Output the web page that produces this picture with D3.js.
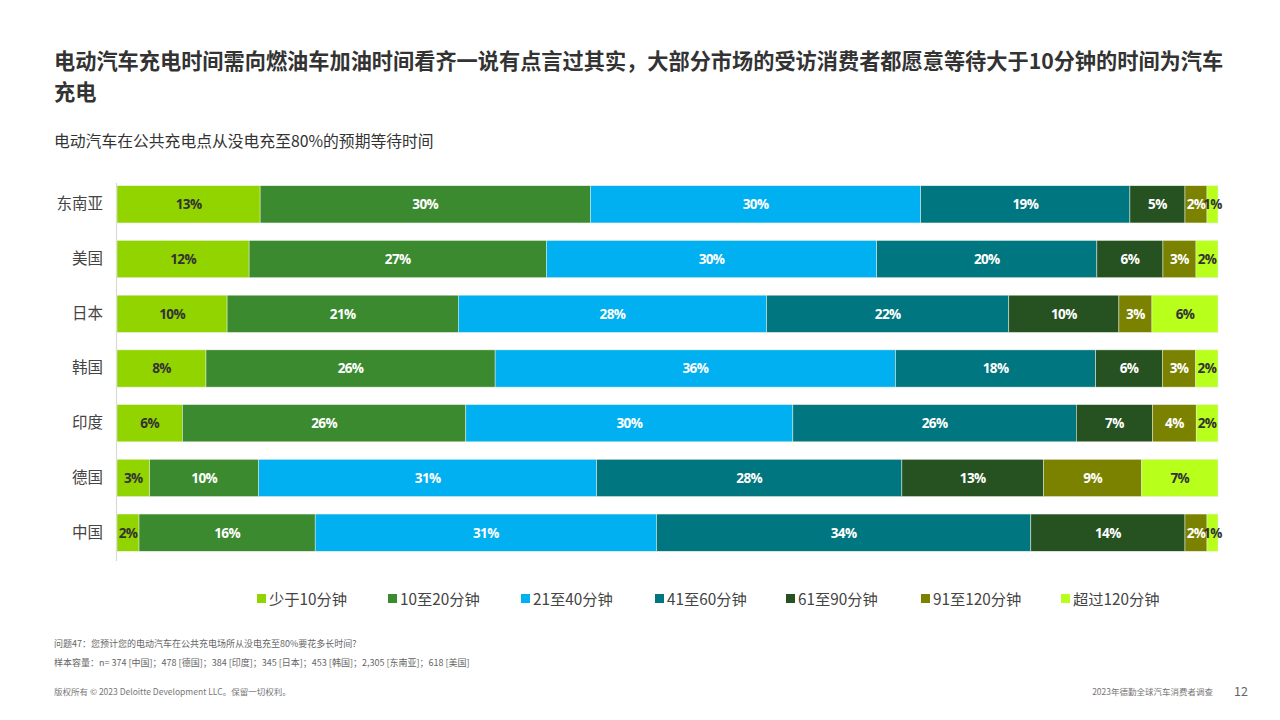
<!DOCTYPE html>
<html>
<head>
<meta charset="utf-8">
<script src="https://cdn.jsdelivr.net/npm/d3@7/dist/d3.min.js"></script>
<style>
  html, body { margin: 0; padding: 0; background: #fff; }
  svg { display: block; font-family: "Noto Sans CJK SC", "Noto Sans", sans-serif; }
</style>
</head>
<body>
<svg id="chart" width="1280" height="720"></svg>
<script>
// ---- Data ----
const countries = ["东南亚", "美国", "日本", "韩国", "印度", "德国", "中国"];
const seriesNames = ["少于10分钟", "10至20分钟", "21至40分钟", "41至60分钟", "61至90分钟", "91至120分钟", "超过120分钟"];
const lt10     = [13, 12, 10, 8, 6, 3, 2];
const m10to20  = [30, 27, 21, 26, 26, 10, 16];
const m21to40  = [30, 30, 28, 36, 30, 31, 31];
const m41to60  = [19, 20, 22, 18, 26, 28, 34];
const m61to90  = [5, 6, 10, 6, 7, 13, 14];
const m91to120 = [2, 3, 3, 3, 4, 9, 2];
const gt120    = [1, 2, 6, 2, 2, 7, 1];
const seriesValues = [lt10, m10to20, m21to40, m41to60, m61to90, m91to120, gt120];
const colors = ["#92D400", "#3B8A2F", "#00B0F0", "#007680", "#265121", "#7B8200", "#B8FF1C"];
const labelColors = ["#333333", "#ffffff", "#ffffff", "#ffffff", "#ffffff", "#ffffff", "#333333"];
const sampleNote = "样本容量：n= 374 [中国]；478 [德国]；384 [印度]；345 [日本]；453 [韩国]；2,305 [东南亚]；618 [美国]";

// ---- Build table ----
const table = countries.map((c, i) => {
  const row = { country: c };
  seriesNames.forEach((s, j) => { row[s] = seriesValues[j][i]; });
  return row;
});

const svg = d3.select("#chart");

// Title (two lines)
svg.append("text").attr("x", 54).attr("y", 68.5)
  .attr("fill", "#333").attr("font-size", 21.2).attr("font-weight", "bold")
  .text("电动汽车充电时间需向燃油车加油时间看齐一说有点言过其实，大部分市场的受访消费者都愿意等待大于10分钟的时间为汽车");
svg.append("text").attr("x", 54).attr("y", 99.5)
  .attr("fill", "#333").attr("font-size", 21.2).attr("font-weight", "bold")
  .text("充电");

svg.append("text").attr("x", 54).attr("y", 147)
  .attr("fill", "#333").attr("font-size", 15.8)
  .text("电动汽车在公共充电点从没电充至80%的预期等待时间");

// Scales
const x0 = 117, x1 = 1218;
const x = d3.scaleLinear().domain([0, 1]).range([x0, x1]);
const y = d3.scaleBand().domain(countries).range([177, 560]).paddingInner(0.32).paddingOuter(0.16);

const stack = d3.stack().keys(seriesNames).offset(d3.stackOffsetExpand);
const stacked = stack(table);

// axis line
svg.append("line").attr("x1", x0 - 0.5).attr("x2", x0 - 0.5).attr("y1", 183).attr("y2", 561)
  .attr("stroke", "#d9d9d9").attr("stroke-width", 1.2);

// y axis labels
const yAxis = d3.axisLeft(y).tickSize(0).tickPadding(14);
const ga = svg.append("g").attr("transform", `translate(${x0},0)`).call(yAxis);
ga.select(".domain").remove();
ga.selectAll("text").attr("font-size", 15.5).attr("fill", "#444")
  .attr("font-family", "\"Noto Sans CJK SC\", sans-serif");

// bars
const groups = svg.append("g").selectAll("g").data(stacked).join("g")
  .attr("fill", (d, i) => colors[i]);
groups.selectAll("rect").data(d => d).join("rect")
  .attr("x", d => x(d[0]))
  .attr("y", d => y(d.data.country))
  .attr("width", d => x(d[1]) - x(d[0]))
  .attr("height", y.bandwidth())
  .attr("stroke", "#e8f0e0").attr("stroke-width", 0.5);

// labels
const lg = svg.append("g");
stacked.forEach((s, i) => {
  lg.selectAll(null).data(s).join("text")
    .attr("x", d => (x(d[0]) + x(d[1])) / 2)
    .attr("y", d => y(d.data.country) + y.bandwidth() / 2)
    .attr("dy", "0.36em")
    .attr("text-anchor", "middle")
    .attr("font-family", "\"Open Sans\", \"Noto Sans\", sans-serif")
    .attr("font-weight", "bold")
    .attr("font-size", 13.5)
    .attr("letter-spacing", -0.6)
    .attr("fill", labelColors[i])
    .text(d => d.data[s.key] + "%");
});

// legend
const legendX = [257, 388, 521, 655, 786, 921, 1061];
const leg = svg.append("g");
seriesNames.forEach((s, i) => {
  const g = leg.append("g").attr("transform", `translate(${legendX[i]},599)`);
  g.append("rect").attr("x", 0).attr("y", -5).attr("width", 9).attr("height", 9).attr("fill", colors[i]);
  g.append("text").attr("x", 12).attr("y", 0).attr("dy", "0.36em")
    .attr("font-size", 15.3).attr("fill", "#444").text(s);
});

// footer
svg.append("text").attr("x", 54).attr("y", 647).attr("font-size", 9).attr("fill", "#666")
  .text("问题47：您预计您的电动汽车在公共充电场所从没电充至80%要花多长时间?");
svg.append("text").attr("x", 54).attr("y", 666).attr("font-size", 9).attr("fill", "#666")
  .text(sampleNote);
svg.append("text").attr("x", 54).attr("y", 695).attr("font-size", 8.5).attr("fill", "#777")
  .text("版权所有 © 2023 Deloitte Development LLC。保留一切权利。");
svg.append("text").attr("x", 1213).attr("y", 695).attr("font-size", 8.5).attr("fill", "#777")
  .attr("text-anchor", "end").text("2023年德勤全球汽车消费者调查");
svg.append("text").attr("x", 1234).attr("y", 696).attr("font-size", 12.5).attr("fill", "#666")
  .text("12");
</script>
</body>
</html>
